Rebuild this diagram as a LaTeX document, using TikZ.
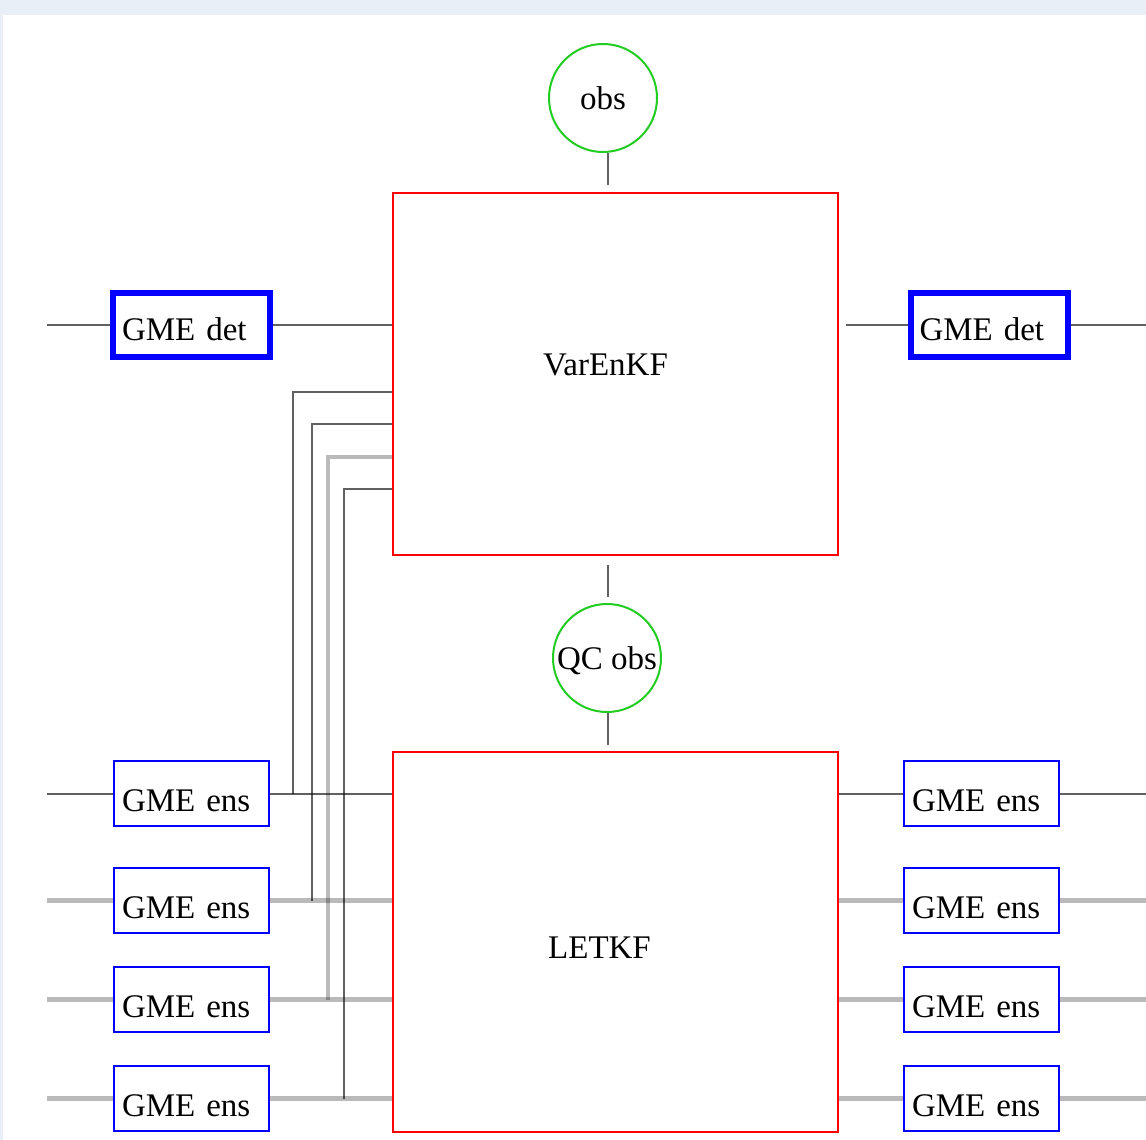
\documentclass[tikz,border=0pt]{standalone}
\usepackage{fontspec}
\setmainfont{Liberation Serif}
\usetikzlibrary{calc}
\definecolor{framebg}{HTML}{E9EFF7}
\definecolor{obsgreen}{HTML}{22CC22}
\tikzset{
  filterbox/.style={draw=red, line width=2.5pt, inner sep=0pt, minimum width=445pt},
  obsnode/.style={circle, draw=obsgreen, line width=2pt, minimum size=108pt, inner sep=0pt,
    text height=22pt, text depth=0pt},
  detbox/.style={draw=blue, line width=6pt, minimum width=157pt, minimum height=64pt,
    inner xsep=9pt, inner ysep=0pt, text width=139pt, align=left, text height=30pt, text depth=0pt},
  ensbox/.style={draw=blue, line width=2.5pt, minimum width=155pt, minimum height=65pt,
    inner xsep=8pt, inner ysep=0pt, text width=139pt, align=left, text height=35pt, text depth=0pt},
  dline/.style={draw=black, draw opacity=0.62, line width=2pt},
  lline/.style={draw=black, draw opacity=0.27, line width=4.5pt},
  lbl/.style={anchor=base, inner sep=0pt}
}
\begin{document}
\begin{tikzpicture}[x=1pt, y=-1pt, font=\fontsize{33}{38}\selectfont]
\useasboundingbox (0,0) rectangle (1146,1140);
\fill[framebg] (0,0) rectangle (1146,1140);
\fill[white] (3,15) rectangle (1146,1140);

% main boxes
\node[filterbox, minimum height=362pt] (var) at (615.5,374) {};
\node[lbl] (varlbl) at (605.5,375) {VarEnKF};
\node[filterbox, minimum height=380pt] (let) at (615.5,942) {};
\node[lbl] (letlbl) at (599.5,958) {LETKF};

% observation circles
\node[obsnode] (obs) at (603,98) {obs};
\node[obsnode] (qc) at (607,658) {QC obs};

% deterministic members
\node[detbox] (detL) at (191.5,325) {GME det};
\node[detbox] (detR) at (989,325) {GME det};

% ensemble members
\foreach \k/\yy in {1/793.5, 2/900.5, 3/999.5, 4/1098.5} {
  \node[ensbox] (ensL\k) at (191.5,\yy) {GME ens};
  \node[ensbox] (ensR\k) at (981.5,\yy) {GME ens};
  \coordinate (inL\k) at (47,\yy);
  \coordinate (outR\k) at (1146,\yy);
}
\coordinate (inD) at (47,325);
\coordinate (outD) at (1146,325);
\coordinate (cx) at (608,0);
\coordinate (f1) at (293,392);
\coordinate (f2) at (312,424);
\coordinate (f3) at (328,457);
\coordinate (f4) at (343.5,489);

% light connectors
\foreach \k in {2,3,4} {
  \draw[lline] (inL\k) -- (ensL\k.west);
  \draw[lline] (ensL\k.east) -- (ensL\k.east -| let.west);
  \draw[lline] (let.east |- ensR\k) -- (ensR\k.west);
  \draw[lline] (ensR\k.east) -- (outR\k);
}
\draw[lline] (var.west |- f3) -| (ensL3 -| f3);

% dark connectors
\draw[dline] (inL1) -- (ensL1.west);
\draw[dline] (ensL1.east) -- (ensL1.east -| let.west);
\draw[dline] (let.east |- ensR1) -- (ensR1.west);
\draw[dline] (ensR1.east) -- (outR1);
\draw[dline] (var.west |- f1) -| (ensL1 -| f1);
\draw[dline] (var.west |- f2) -| (ensL2 -| f2);
\draw[dline] (var.west |- f4) -| (ensL4 -| f4);

\draw[dline] (inD) -- (detL.west);
\draw[dline] (detL.east) -- (detL.east -| var.west);
\draw[dline, shorten <=7pt] (var.east |- detR) -- (detR.west);
\draw[dline] (detR.east) -- (outD);

\draw[dline, shorten >=7pt] (obs.south -| cx) -- (var.north -| cx);
\draw[dline, shorten <=9pt, shorten >=6pt] (var.south -| cx) -- (qc.north -| cx);
\draw[dline, shorten >=6pt] (qc.south -| cx) -- (let.north -| cx);
\end{tikzpicture}
\end{document}
